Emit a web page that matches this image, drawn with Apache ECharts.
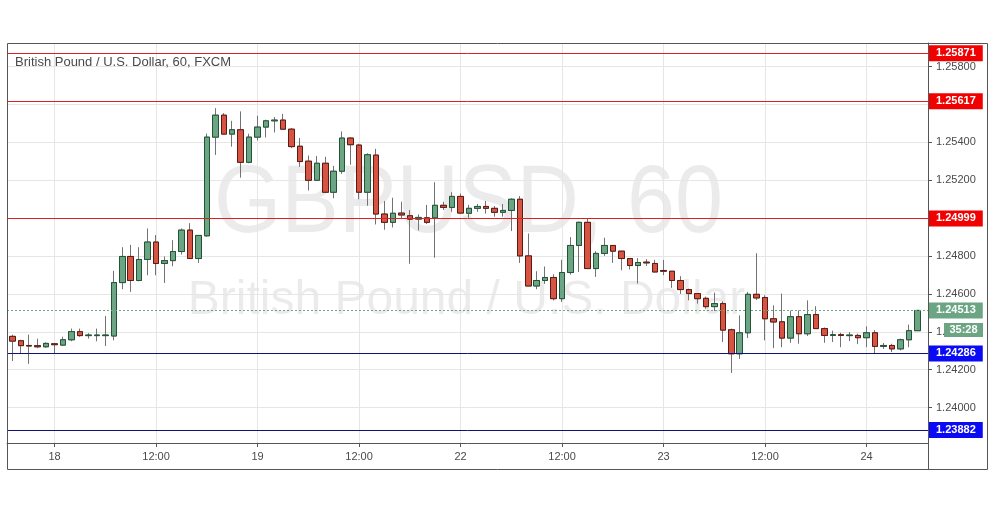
<!DOCTYPE html>
<html><head><meta charset="utf-8">
<script src="https://cdn.jsdelivr.net/npm/echarts@6/dist/echarts.min.js"></script>
<style>html,body{margin:0;padding:0;background:#fff}#c{width:991px;height:507px}</style>
</head><body><div id="c"></div>
<script>
// ---- data (hourly GBP/USD candles) ----
const openP = [1.24376,1.24353,1.24328,1.24327,1.24321,1.24337,1.24330,1.24358,1.24401,1.24380,
1.24380,1.24380,1.24378,1.24660,1.24798,1.24671,1.24782,1.24874,1.24761,1.24776,
1.24824,1.24937,1.24787,1.24907,1.25428,1.25544,1.25444,1.25467,1.25295,1.25428,
1.25481,1.25514,1.25518,1.25470,1.25380,1.25301,1.25200,1.25290,1.25137,1.25248,
1.25423,1.25386,1.25137,1.25333,1.25022,1.24978,1.25027,1.25013,1.24995,1.25002,
1.25002,1.25068,1.25057,1.25115,1.25026,1.25052,1.25062,1.25052,1.25031,1.25041,
1.25100,1.24801,1.24642,1.24671,1.24687,1.24575,1.24713,1.24856,1.24978,1.24734,
1.24814,1.24856,1.24826,1.24787,1.24750,1.24768,1.24761,1.24724,1.24720,1.24671,
1.24623,1.24602,1.24577,1.24533,1.24549,1.24411,1.24284,1.24395,1.24598,1.24581,
1.24469,1.24453,1.24367,1.24480,1.24390,1.24491,1.24417,1.24381,1.24385,1.24380,
1.24381,1.24369,1.24395,1.24323,1.24328,1.24310,1.24358,1.24406];
const closeP = [1.24351,1.24327,1.24325,1.24321,1.24339,1.24332,1.24358,1.24401,1.24380,1.24383,
1.24383,1.24383,1.24660,1.24798,1.24671,1.24782,1.24874,1.24761,1.24776,1.24824,
1.24937,1.24787,1.24909,1.25428,1.25544,1.25444,1.25467,1.25295,1.25428,1.25481,
1.25514,1.25518,1.25470,1.25378,1.25299,1.25200,1.25290,1.25137,1.25248,1.25423,
1.25388,1.25137,1.25335,1.25022,1.24978,1.25026,1.25017,1.24995,1.25004,1.24978,
1.25068,1.25057,1.25115,1.25027,1.25052,1.25062,1.25052,1.25031,1.25041,1.25100,
1.24801,1.24642,1.24671,1.24687,1.24575,1.24713,1.24856,1.24978,1.24734,1.24814,
1.24856,1.24826,1.24787,1.24750,1.24766,1.24764,1.24716,1.24720,1.24671,1.24623,
1.24602,1.24575,1.24533,1.24549,1.24409,1.24284,1.24395,1.24598,1.24579,1.24469,
1.24452,1.24367,1.24480,1.24390,1.24491,1.24417,1.24381,1.24385,1.24381,1.24383,
1.24369,1.24395,1.24323,1.24328,1.24310,1.24358,1.24406,1.24513];
const lowP = [1.24246,1.24283,1.24231,1.24314,1.24316,1.24284,1.24325,1.24350,1.24374,1.24364,
1.24350,1.24325,1.24355,1.24625,1.24611,1.24667,1.24699,1.24699,1.24658,1.24746,
1.24808,1.24787,1.24764,1.24902,1.25334,1.25444,1.25378,1.25214,1.25290,1.25410,
1.25426,1.25453,1.25469,1.25370,1.25271,1.25146,1.25200,1.25137,1.25105,1.25234,
1.25282,1.25100,1.25066,1.24967,1.24939,1.24951,1.24995,1.24759,1.24935,1.24969,
1.24791,1.25043,1.25034,1.25024,1.25002,1.25034,1.25024,1.25008,1.25008,1.24932,
1.24764,1.24642,1.24625,1.24653,1.24566,1.24558,1.24702,1.24716,1.24734,1.24690,
1.24801,1.24764,1.24725,1.24729,1.24655,1.24748,1.24716,1.24699,1.24632,1.24600,
1.24566,1.24549,1.24522,1.24510,1.24346,1.24183,1.24257,1.24367,1.24568,1.24355,
1.24314,1.24319,1.24342,1.24337,1.24378,1.24417,1.24342,1.24346,1.24319,1.24351,
1.24335,1.24319,1.24284,1.24310,1.24293,1.24302,1.24319,1.24406];
const highP = [1.24385,1.24358,1.24385,1.24364,1.24344,1.24339,1.24374,1.24417,1.24417,1.24393,
1.24417,1.24484,1.24722,1.24847,1.24859,1.24847,1.24946,1.24911,1.24798,1.24884,
1.24946,1.24974,1.24909,1.25447,1.25581,1.25555,1.25514,1.25564,1.25446,1.25541,
1.25520,1.25534,1.25551,1.25476,1.25423,1.25331,1.25328,1.25324,1.25276,1.25458,
1.25428,1.25393,1.25343,1.25366,1.25091,1.25108,1.25087,1.25043,1.25020,1.25070,
1.25190,1.25087,1.25137,1.25130,1.25070,1.25075,1.25091,1.25064,1.25075,1.25105,
1.25117,1.24919,1.24720,1.24745,1.24704,1.24780,1.24900,1.24982,1.24999,1.24826,
1.24897,1.24856,1.24826,1.24787,1.24789,1.24784,1.24780,1.24780,1.24720,1.24694,
1.24628,1.24602,1.24586,1.24607,1.24561,1.24417,1.24487,1.24611,1.24815,1.24593,
1.24540,1.24602,1.24512,1.24513,1.24566,1.24535,1.24423,1.24406,1.24395,1.24399,
1.24390,1.24429,1.24409,1.24341,1.24337,1.24364,1.24438,1.24516];

const xTickIndex  = [5, 17, 29, 41, 53, 65, 77, 89, 101];
const xTickLabels = ['18', '12:00', '19', '12:00', '22', '12:00', '23', '12:00', '24'];
const yTicks = [1.240, 1.242, 1.244, 1.246, 1.248, 1.250, 1.252, 1.254, 1.256, 1.258];
const resistance = [1.25871, 1.25617, 1.24999];
const support = [1.24286, 1.23882];
const lastPrice = 1.24513;
const countdown = '35:28';
const titleText = 'British Pound / U.S. Dollar, 60, FXCM';
const watermark1 = 'GBPUSD, 60';
const watermark2 = 'British Pound / U.S. Dollar';

// ---- chart ----
const FONT = '"Liberation Sans", Arial, sans-serif';
const UP = '#6ba583', DOWN = '#d75442';
const wickData = openP.map((o, i) => [i, o, closeP[i], lowP[i], highP[i]]);
const bodyData = openP.map((o, i) => [i, o, closeP[i], Math.min(o, closeP[i]), Math.max(o, closeP[i])]);

function tag(v, bg, line) {
  return { yAxis: v, label: { backgroundColor: bg }, lineStyle: line };
}
const mlData = [];
resistance.forEach(v => mlData.push(tag(v, '#f00000', { color: '#e02020', width: 1, type: 'solid', opacity: 1 })));
support.forEach(v => mlData.push(tag(v, '#0a0af5', { color: '#10107a', width: 1, type: 'solid', opacity: 1 })));
mlData.push(tag(lastPrice, UP, { color: '#6ba583', width: 1, type: [2, 2], opacity: 1 }));

const chart = echarts.init(document.getElementById('c'), null, { renderer: 'canvas' });
const option = {
  animation: false,
  backgroundColor: '#ffffff',
  textStyle: { fontFamily: FONT },
  title: {
    text: titleText, left: 15, top: 56, padding: 0,
    textStyle: { fontSize: 13, fontWeight: 'normal', color: '#4a4a4a', fontFamily: FONT }
  },
  grid: { left: 7, top: 43, right: 63, bottom: 64, show: false },
  xAxis: {
    type: 'value', min: -0.627, max: 108.26,
    axisLine: { show: true, onZero: false, lineStyle: { color: '#555', width: 1 } },
    axisTick: { show: true, customValues: xTickIndex, length: 4, lineStyle: { color: '#555' } },
    axisLabel: {
      customValues: xTickIndex, margin: 8, fontSize: 11, color: '#4a4a4a', fontFamily: FONT,
      formatter: v => xTickLabels[xTickIndex.indexOf(Math.round(v))]
    },
    splitLine: { show: true, lineStyle: { color: '#e6e6e6', width: 1 } }
  },
  yAxis: {
    type: 'value', position: 'right', min: 1.23813, max: 1.25925,
    axisLine: { show: true, onZero: false, lineStyle: { color: '#555', width: 1 } },
    axisTick: { show: true, customValues: yTicks, length: 4, lineStyle: { color: '#555' } },
    axisLabel: {
      customValues: yTicks, margin: 8, fontSize: 11, color: '#4a4a4a', fontFamily: FONT,
      formatter: v => v.toFixed(5)
    },
    splitLine: { show: true, lineStyle: { color: '#e6e6e6', width: 1 } }
  },
  series: [
    {
      type: 'candlestick', name: 'wick', data: wickData, encode: { x: 0, y: [1, 2, 3, 4] },
      barWidth: 6, silent: true, z: 3,
      itemStyle: { color: UP, color0: DOWN, borderColor: '#737375', borderColor0: '#737375', borderColorDoji: '#737375', borderWidth: 1 }
    },
    {
      type: 'candlestick', name: 'body', data: bodyData, encode: { x: 0, y: [1, 2, 3, 4] },
      barWidth: 6, silent: true, z: 4,
      itemStyle: { color: UP, color0: DOWN, borderColor: '#225437', borderColor0: '#5b1a13', borderColorDoji: '#3a3a3a', borderWidth: 1 },
      markLine: {
        silent: true, symbol: ['none', 'none'], animation: false, z: 10, precision: 5,
        label: {
          show: true, position: 'end', distance: 1, color: '#fff', fontWeight: 'bold', fontSize: 11,
          fontFamily: FONT, padding: [2, 7, 1, 7], lineHeight: 13,
          formatter: p => Number(p.value).toFixed(5)
        },
        data: mlData
      }
    }
  ],
  graphic: []
};
chart.setOption(option);

const yLast = chart.convertToPixel({ yAxisIndex: 0 }, lastPrice);
const xCenter = (chart.convertToPixel({ xAxisIndex: 0 }, -0.627) + chart.convertToPixel({ xAxisIndex: 0 }, 108.26)) / 2;
chart.setOption({
  graphic: [
    { type: 'text', x: xCenter + 1, y: 206, scaleX: 0.9, z: -10, silent: true,
      style: { text: watermark1, fontSize: 96, fontFamily: FONT, fill: 'rgba(0,0,0,0.08)', align: 'center', verticalAlign: 'middle' } },
    { type: 'text', x: xCenter - 1, y: 301, z: -10, silent: true,
      style: { text: watermark2, fontSize: 48, fontFamily: FONT, fill: 'rgba(0,0,0,0.08)', align: 'center', verticalAlign: 'middle' } },
    { type: 'rect', z: 50, silent: true, shape: { x: 7.5, y: 43.5, width: 980, height: 426 },
      style: { fill: 'none', stroke: '#555', lineWidth: 1 } },
    { type: 'line', z: 50, silent: true, shape: { x1: 928.5, y1: 443, x2: 928.5, y2: 470 },
      style: { stroke: '#555', lineWidth: 1 } },
    { type: 'rect', z: 60, silent: true, shape: { x: 944, y: Math.round(yLast) + 13, width: 39, height: 14 },
      style: { fill: UP } },
    { type: 'text', z: 61, silent: true, x: 963.5, y: Math.round(yLast) + 20,
      style: { text: countdown, fill: '#fff', fontSize: 11, fontWeight: 'bold', fontFamily: FONT, align: 'center', verticalAlign: 'middle' } }
  ]
});
</script></body></html>
